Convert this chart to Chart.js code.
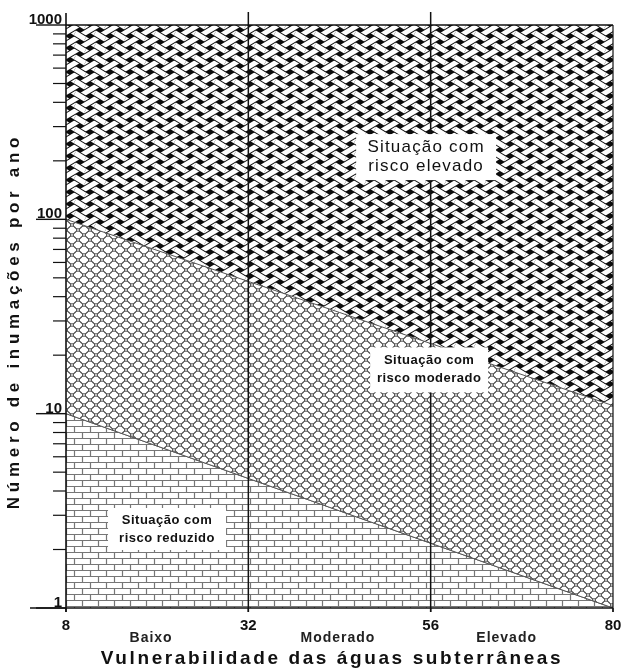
<!DOCTYPE html>
<html>
<head>
<meta charset="utf-8">
<script src="https://cdn.jsdelivr.net/npm/chart.js@4/dist/chart.umd.min.js"></script>
<style>
  html, body { margin: 0; padding: 0; background: #fff; }
</style>
</head>
<body>
<canvas id="risk" width="624" height="668"></canvas>
<script>
// vulnerability range and the two risk boundaries (inhumations per year)
const vulnRange = [8, 80];
const upperBoundary = [100, 11];   // moderate -> high risk
const lowerBoundary = [10, 1];     // low -> moderate risk
const classBreaks = [32, 56];
const xTickValues = [8, 32, 56, 80];
const yTickValues = [1, 10, 100, 1000];
const classNames = ['Baixo', 'Moderado', 'Elevado'];
const classLabelX = [19.2, 43.8, 66];
const zoneText = [
  ['Situação com', 'risco elevado'],
  ['Situação com', 'risco moderado'],
  ['Situação com', 'risco reduzido']
];

// where the zone captions sit (data coords), box sizes and type
const zoneBoxes = [
  { x: 55.4, y: 209, w: 140, h: 46, font: '17px "Liberation Sans", Arial, sans-serif', spacing: '1.2px', gap: 19 },
  { x: 55.8, y: 16.8, w: 118, h: 45, font: 'bold 13px "Liberation Sans", Arial, sans-serif', spacing: '0.5px', gap: 18 },
  { x: 21.3, y: 2.55, w: 118, h: 42, font: 'bold 13px "Liberation Sans", Arial, sans-serif', spacing: '0.5px', gap: 18 }
];

const ctx = document.getElementById('risk').getContext('2d');

function tile(w, h, draw) {
  const c = document.createElement('canvas');
  c.width = w; c.height = h;
  const g = c.getContext('2d');
  draw(g, w, h);
  return ctx.createPattern(c, 'repeat');
}

// plain weave of diagonal strands for the high risk zone
const woven = tile(20, 12, (g, w, h) => {
  const d = 12, s = 0.6, sw = 5;
  const half = d / (2 * s);
  g.fillStyle = '#0d0d0d';
  g.fillRect(0, 0, w, h);
  g.lineCap = 'butt';
  const strand = (x0, y0, x1, y1) => {
    g.strokeStyle = '#0d0d0d'; g.lineWidth = sw + 2;
    g.beginPath(); g.moveTo(x0, y0); g.lineTo(x1, y1); g.stroke();
    g.strokeStyle = '#fff'; g.lineWidth = sw;
    g.beginPath(); g.moveTo(x0, y0); g.lineTo(x1, y1); g.stroke();
  };
  // falling strands underneath
  for (let j = -5; j <= 5; j++) strand(-30, -30 * s + d * j, 50, 50 * s + d * j);
  // rising strands on top
  for (let i = -3; i <= 7; i++) strand(-30, 30 * s + d * i, 50, -50 * s + d * i);
  // falling strands back over every other crossing
  for (let i = -5; i <= 7; i++) {
    for (let j = -5; j <= 5; j++) {
      if ((i + j) % 2 !== 0) continue;
      const cx = half * (i - j), cy = d * (i + j) / 2;
      if (cx < -14 || cx > 34 || cy < -10 || cy > 22) continue;
      strand(cx - half / 2, cy - s * half / 2, cx + half / 2, cy + s * half / 2);
    }
  }
});

// chain-link mesh for the moderate zone
const mesh = tile(12, 10, (g, w, h) => {
  g.fillStyle = '#fff';
  g.fillRect(0, 0, w, h);
  g.strokeStyle = '#505050';
  g.lineWidth = 1;
  [[0, 0], [12, 0], [6, 5], [0, 10], [12, 10], [6, -5], [6, 15], [-6, 5], [18, 5]].forEach(([cx, cy]) => {
    g.beginPath(); g.ellipse(cx, cy, 4.7, 3.9, 0, 0, Math.PI * 2); g.stroke();
  });
});

// brick courses for the low risk zone
const bricks = tile(16, 12, (g, w, h) => {
  g.fillStyle = '#fff';
  g.fillRect(0, 0, w, h);
  g.strokeStyle = '#767676';
  g.lineWidth = 1.2;
  g.beginPath();
  g.moveTo(0, 0.5); g.lineTo(w, 0.5);
  g.moveTo(0, 6.5); g.lineTo(w, 6.5);
  g.moveTo(2.5, 0.5); g.lineTo(2.5, 6.5);
  g.moveTo(10.5, 6.5); g.lineTo(10.5, 12);
  g.stroke();
});

const points = ys => vulnRange.map((x, i) => ({ x: x, y: ys[i] }));

function seg(c, x0, y0, x1, y1) {
  c.beginPath(); c.moveTo(x0, y0); c.lineTo(x1, y1); c.stroke();
}

const frame = {
  id: 'frame',
  afterDatasetsDraw(chart) {
    const c = chart.ctx;
    const a = chart.chartArea;
    const xs = chart.scales.x, ys = chart.scales.y;
    c.save();
    c.strokeStyle = '#111';

    // plot frame
    c.lineWidth = 1.5;
    seg(c, a.left, a.top, a.right, a.top);
    c.lineWidth = 1.2;
    seg(c, a.right, a.top, a.right, a.bottom + 4);
    c.lineWidth = 1.6;
    seg(c, a.left, a.top - 12, a.left, a.bottom + 4);
    seg(c, 30, a.bottom, a.right, a.bottom);

    // class limits
    c.lineWidth = 1.5;
    classBreaks.forEach(v => {
      const px = xs.getPixelForValue(v);
      seg(c, px, a.top - 13, px, a.bottom + 4);
    });

    // minor log ticks
    c.lineWidth = 1.2;
    for (let d = 1; d < 1000; d *= 10) {
      for (let m = 2; m <= 9; m++) {
        const py = ys.getPixelForValue(d * m);
        seg(c, a.left - 13, py, a.left, py);
      }
    }

    // decade ticks with labels sitting on them
    c.font = 'bold 15px "Liberation Sans", Arial, sans-serif';
    c.fillStyle = '#111';
    c.textAlign = 'right';
    c.textBaseline = 'alphabetic';
    yTickValues.forEach(v => {
      const py = ys.getPixelForValue(v);
      c.lineWidth = 1.4;
      seg(c, 36, py, a.left, py);
      c.fillText(String(v), a.left - 4, py - 1);
    });

    // x ticks
    c.textAlign = 'center';
    xTickValues.forEach(v => {
      const px = xs.getPixelForValue(v);
      c.lineWidth = 1.4;
      seg(c, px, a.bottom, px, a.bottom + 4);
      c.fillText(String(v), px, a.bottom + 22);
    });

    // vulnerability classes
    c.font = 'bold 14px "Liberation Sans", Arial, sans-serif';
    c.letterSpacing = '1px';
    c.fillStyle = '#222';
    classNames.forEach((name, i) => {
      c.fillText(name, xs.getPixelForValue(classLabelX[i]), a.bottom + 34);
    });

    // axis titles
    c.font = 'bold 19px "Liberation Sans", Arial, sans-serif';
    c.letterSpacing = '2.6px';
    c.fillStyle = '#111';
    c.fillText('Vulnerabilidade das águas subterrâneas', 332, 664);

    c.save();
    c.translate(19, 321);
    c.rotate(-Math.PI / 2);
    c.font = 'bold 17px "Liberation Sans", Arial, sans-serif';
    c.letterSpacing = '4.7px';
    c.fillText('Número de inumações por ano', 0, 0);
    c.restore();

    // zone captions on white boxes
    zoneBoxes.forEach((b, i) => {
      const px = xs.getPixelForValue(b.x), py = ys.getPixelForValue(b.y);
      c.fillStyle = '#fff';
      c.fillRect(px - b.w / 2, py - b.h / 2, b.w, b.h);
      c.font = b.font;
      c.letterSpacing = b.spacing;
      c.fillStyle = '#111';
      c.textBaseline = 'middle';
      c.fillText(zoneText[i][0], px, py - b.gap / 2);
      c.fillText(zoneText[i][1], px, py + b.gap / 2);
    });
    c.restore();
  }
};

new Chart(ctx, {
  type: 'line',
  data: {
    datasets: [
      { data: points(upperBoundary), fill: 'end', backgroundColor: woven, borderColor: '#555', borderWidth: 1, pointRadius: 0 },
      { data: points(lowerBoundary), fill: '-1', backgroundColor: mesh, borderColor: '#555', borderWidth: 1, pointRadius: 0 },
      { data: points(lowerBoundary), fill: 'start', backgroundColor: bricks, borderColor: '#555', borderWidth: 1, pointRadius: 0 }
    ]
  },
  options: {
    responsive: false,
    animation: false,
    layout: { padding: { left: 66, right: 11, top: 25, bottom: 60 } },
    scales: {
      x: { type: 'linear', min: vulnRange[0], max: vulnRange[1], display: false },
      y: { type: 'logarithmic', min: 1, max: 1000, display: false }
    },
    plugins: { legend: { display: false }, tooltip: { enabled: false } }
  },
  plugins: [frame]
});
</script>
</body>
</html>
